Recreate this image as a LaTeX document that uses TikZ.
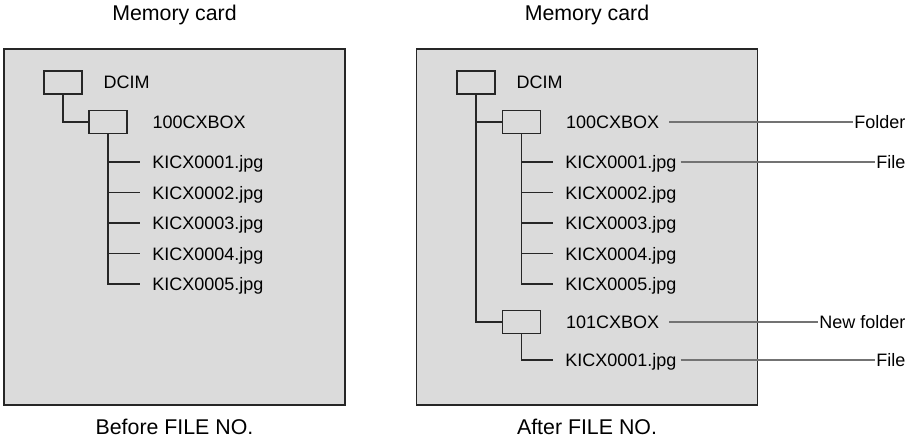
\documentclass[tikz,border=0pt]{standalone}
\usepackage{fontspec}
\setmainfont{Liberation Sans}
\usetikzlibrary{positioning}

\begin{document}
\begin{tikzpicture}[
    x=0.75pt, y=-0.75pt,
    font=\fontsize{13.5}{16}\selectfont,
    card/.style={draw=black!85, fill=black!14, line width=1.2pt, rectangle, minimum width=255.5pt, minimum height=267pt, inner sep=0pt},
    folder/.style={draw=black!85, line width=1.1pt, rectangle, minimum width=28.5pt, minimum height=17pt, inner sep=0pt},
    dirname/.style={inner xsep=7.5pt, inner ysep=0pt, text height=9.7pt, text depth=0pt},
    filename/.style={anchor=west, inner xsep=9pt, inner ysep=0pt, text height=9.7pt, text depth=0pt},
    callout/.style={anchor=east, inner xsep=1pt, inner ysep=0pt, text height=9.7pt, text depth=0pt},
    caption/.style={font=\fontsize{16}{19}\selectfont},
    tree/.style={draw=black!85, line width=1.1pt},
    leader/.style={draw=black!55, line width=0.8pt}
]
    \useasboundingbox (0,0) rectangle (920,439);

    % Memory cards
    \node (cardA) [card] at (174.5,227) {};
    \node (cardB) [card] at (587,227) {};
    \node (capA) [caption] at (174.5,15) {Memory card};
    \node (capB) [caption] at (587,15) {Memory card};
    \node (subA) [caption] at (174.5,427) {Before FILE NO.};
    \node (subB) [caption] at (587,427) {After FILE NO.};

    % Before: folders and files
    \node (dcimA) [folder] at (63,82.5) {};
    \node (boxA) [folder] at (108,122) {};
    \node (dcimAname) [dirname, right=8pt of dcimA] {DCIM};
    \node (boxAname) [dirname, right=11pt of boxA] {100CXBOX};
    \node (fA1) [filename] at (140,162) {KICX0001.jpg};
    \node (fA2) [filename, below=12.8pt of fA1] {KICX0002.jpg};
    \node (fA3) [filename, below=12.8pt of fA2] {KICX0003.jpg};
    \node (fA4) [filename, below=12.8pt of fA3] {KICX0004.jpg};
    \node (fA5) [filename, below=12.8pt of fA4] {KICX0005.jpg};

    % After: folders and files
    \node (dcimB) [folder] at (476,82.5) {};
    \node (boxB) [folder] at (521.5,122) {};
    \node (newB) [folder] at (521.5,322) {};
    \node (dcimBname) [dirname, right=8pt of dcimB] {DCIM};
    \node (boxBname) [dirname, right=11pt of boxB] {100CXBOX};
    \node (newBname) [dirname, right=11pt of newB] {101CXBOX};
    \node (fB1) [filename] at (553,162) {KICX0001.jpg};
    \node (fB2) [filename, below=12.8pt of fB1] {KICX0002.jpg};
    \node (fB3) [filename, below=12.8pt of fB2] {KICX0003.jpg};
    \node (fB4) [filename, below=12.8pt of fB3] {KICX0004.jpg};
    \node (fB5) [filename, below=12.8pt of fB4] {KICX0005.jpg};
    \node (fB6) [filename] at (553,360) {KICX0001.jpg};

    % Callouts
    \coordinate (edge) at (907,0);
    \node (folderTag) [callout] at (edge |- boxBname) {Folder};
    \node (fileTag) [callout] at (edge |- fB1) {File};
    \node (newTag) [callout] at (edge |- newBname) {New folder};
    \node (fileTag2) [callout] at (edge |- fB6) {File};

    % Draw tree lines
    \draw [tree] (dcimA.south) |- (boxA.west);
    \draw [tree] (boxA.south) |- (fA1.west);
    \draw [tree] (boxA.south) |- (fA2.west);
    \draw [tree] (boxA.south) |- (fA3.west);
    \draw [tree] (boxA.south) |- (fA4.west);
    \draw [tree] (boxA.south) |- (fA5.west);

    \draw [tree] (dcimB.south) |- (boxB.west);
    \draw [tree] (dcimB.south) |- (newB.west);
    \draw [tree] (boxB.south) |- (fB1.west);
    \draw [tree] (boxB.south) |- (fB2.west);
    \draw [tree] (boxB.south) |- (fB3.west);
    \draw [tree] (boxB.south) |- (fB4.west);
    \draw [tree] (boxB.south) |- (fB5.west);
    \draw [tree] (newB.south) |- (fB6.west);

    % Draw leader lines
    \draw [leader] (boxBname.east) -- (folderTag.west);
    \draw [leader, shorten <=-6pt] (fB1.east) -- (fileTag.west);
    \draw [leader] (newBname.east) -- (newTag.west);
    \draw [leader, shorten <=-6pt] (fB6.east) -- (fileTag2.west);

\end{tikzpicture}
\end{document}
